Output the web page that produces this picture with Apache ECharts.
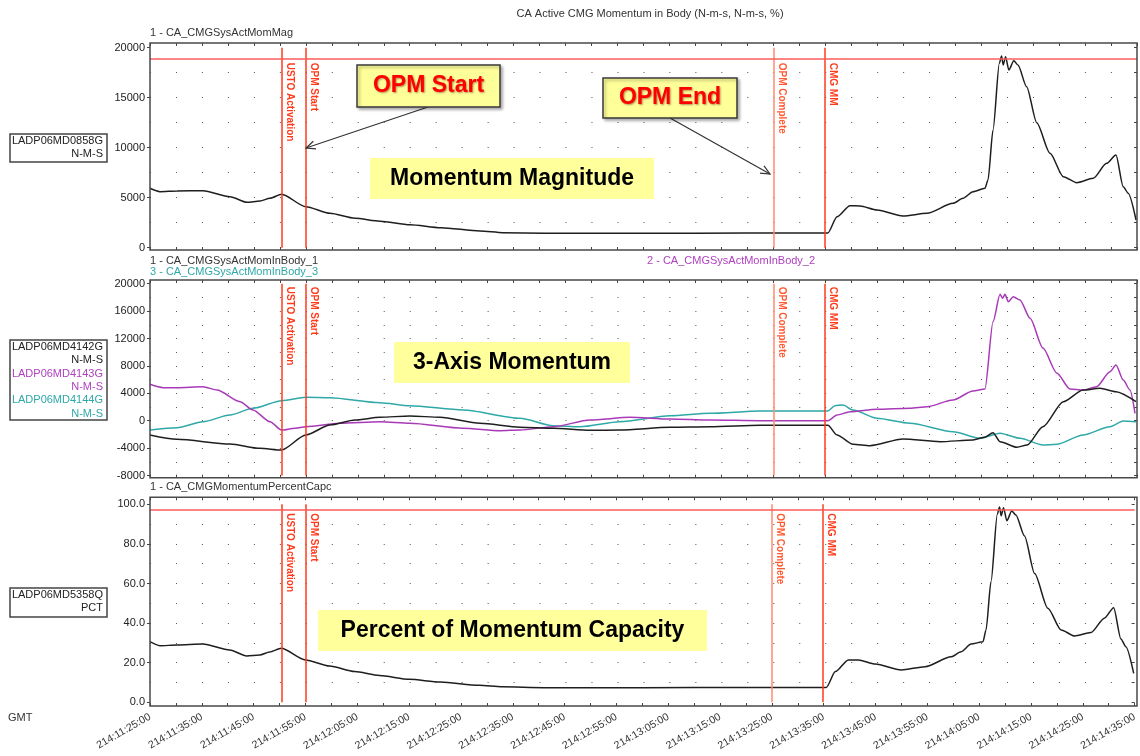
<!DOCTYPE html>
<html>
<head>
<meta charset="utf-8">
<title>CA Active CMG Momentum in Body</title>
<script src="https://cdn.jsdelivr.net/npm/echarts@6/dist/echarts.min.js"></script>
<style>
  html, body { margin: 0; padding: 0; background: #ffffff; }
  #chart { width: 1140px; height: 756px; }
</style>
</head>
<body>
<div id="chart"></div>
<script>
// ---- Time axis tick labels (DOY:HH:MM:SS) ----
const xTickLabels = [
  '214:11:25:00', '214:11:35:00', '214:11:45:00', '214:11:55:00', '214:12:05:00',
  '214:12:15:00', '214:12:25:00', '214:12:35:00', '214:12:45:00', '214:12:55:00',
  '214:13:05:00', '214:13:15:00', '214:13:25:00', '214:13:35:00', '214:13:45:00',
  '214:13:55:00', '214:14:05:00', '214:14:15:00', '214:14:25:00', '214:14:35:00'
];

// ---- Y tick labels per strip ----
const magTickLabels = ['0', '5000', '10000', '15000', '20000'];
const bodyTickLabels = ['-8000', '-4000', '0', '4000', '8000', '12000', '16000', '20000'];
const pctTickLabels = ['0.0', '20.0', '40.0', '60.0', '80.0', '100.0'];

// ---- Event markers ----
const eventNames = ['USTO Activation', 'OPM Start', 'OPM Complete', 'CMG MM'];
const eventTimes = ['11:50:20', '11:55:00', '13:25:00', '13:34:50'];

// ---- Limits ----
const magLimit = 18900;   // N-m-s
const pctLimit = 97.5;    // %

// ---- Momentum magnitude (N-m-s) and percent of capacity (%) ----
const magTimes = [
  '11:25:00', '11:26:55', '11:30:12', '11:35:12', '11:40:24', '11:43:40', '11:46:10', '11:48:06',
  '11:50:20', '11:55:00', '11:59:39', '12:04:28', '12:09:16', '12:15:03', '12:21:00', '12:28:31',
  '12:32:57', '12:41:02', '13:00:00', '13:20:00', '13:35:30', '13:37:15', '13:39:45', '13:41:41',
  '13:44:57', '13:49:57', '13:54:34', '13:59:35', '14:01:30', '14:03:26', '14:05:44', '14:06:19',
  '14:07:17', '14:08:30', '14:08:56', '14:09:14', '14:09:42', '14:10:20', '14:11:17', '14:12:05',
  '14:13:45', '14:15:42', '14:18:15', '14:20:49', '14:23:24', '14:26:34', '14:29:09', '14:30:57',
  '14:32:21', '14:33:19', '14:34:49'
];
const magValues = [
  5940, 5600, 5670, 5700, 5100, 4540, 4670, 4940,
  5340, 4100, 3440, 2940, 2650, 2300, 2000, 1670,
  1500, 1450, 1450, 1460, 1480, 3100, 4200, 4170,
  3770, 3170, 3440, 4440, 4940, 5600, 5940, 6770,
  11770, 18440, 19170, 18270, 19100, 17770, 18700, 18270,
  16100, 12500, 9440, 7100, 6500, 6940, 8440, 9270,
  6100, 5440, 2770
];
const pctValues = [
  30.6, 28.6, 28.9, 29.4, 26.4, 23.4, 23.9, 25.4,
  27.3, 21.4, 18.3, 15.5, 13.5, 11.6, 10.2, 8.6,
  7.8, 7.4, 7.4, 7.5, 7.5, 15.5, 21.4, 21.4,
  19.3, 16.3, 18.0, 23.0, 25.5, 29.4, 30.6, 36.5,
  61.0, 95.0, 98.6, 94.2, 98.3, 91.7, 96.6, 94.6,
  84.0, 65.0, 47.5, 36.5, 33.5, 35.2, 42.5, 47.8,
  32.0, 28.1, 14.6
];

// ---- 3-axis momentum in body (N-m-s) ----
const body1Times = [
  '11:25:00', '11:30:12', '11:40:24', '11:46:10', '11:50:20', '11:55:00', '11:59:39', '12:04:28',
  '12:09:16', '12:15:03', '12:20:49', '12:28:31', '12:36:14', '12:42:35', '12:49:42', '12:55:28',
  '13:05:06', '13:12:48', '13:22:26', '13:35:30', '13:37:15', '13:40:20', '13:43:36', '13:49:57',
  '13:57:05', '14:03:26', '14:05:44', '14:07:17', '14:08:38', '14:11:54', '14:13:51', '14:16:54',
  '14:20:49', '14:24:36', '14:27:52', '14:30:57', '14:34:49'
];
const body1Values = [
  -2090, -2720, -3400, -4030, -4280, -2090, -630, 100,
  500, 690, 500, -380, -960, -1110, -1400, -1360,
  -960, -880, -670, -670, -2090, -3450, -3650, -2670,
  -3070, -2820, -2400, -1750, -3070, -3880, -3550, -880,
  2770, 4480, 4730, 4230, 2770
];

const body2Times = [
  '11:25:00', '11:27:30', '11:30:12', '11:35:12', '11:37:54', '11:42:20', '11:44:50', '11:48:06',
  '11:50:20', '11:52:55', '11:55:00', '12:01:35', '12:09:16', '12:15:03', '12:25:15', '12:32:23',
  '12:36:14', '12:42:35', '12:49:42', '12:57:24', '13:05:06', '13:12:48', '13:22:26', '13:35:30',
  '13:37:15', '13:39:45', '13:44:57', '13:51:18', '13:54:34', '13:59:35', '14:03:26', '14:05:44',
  '14:07:17', '14:08:38', '14:09:09', '14:09:35', '14:10:13', '14:11:11', '14:12:28', '14:14:25',
  '14:16:54', '14:19:33', '14:22:06', '14:24:36', '14:27:13', '14:29:48', '14:30:57', '14:32:21',
  '14:33:39', '14:34:37'
];
const body2Values = [
  5310, 4820, 4820, 4960, 4480, 2770, 1560, -150,
  -1360, -1110, -880, -380, -150, -380, -1110, -1460,
  -1360, -880, 100, 500, 250, 100, 0, 0,
  830, 1310, 1660, 1810, 2040, 3020, 4340, 4630,
  14450, 18450, 17870, 18450, 17370, 18100, 17620, 14950,
  10610, 6960, 4630, 4480, 4960, 7150, 8130, 5940,
  4480, 1080
];

const body3Times = [
  '11:25:00', '11:30:12', '11:35:12', '11:40:24', '11:44:50', '11:50:20', '11:55:00', '11:59:39',
  '12:09:16', '12:15:03', '12:25:15', '12:36:14', '12:42:35', '12:47:47', '12:55:28', '13:05:06',
  '13:12:48', '13:22:26', '13:35:30', '13:36:52', '13:38:24', '13:40:20', '13:44:57', '13:51:18',
  '13:59:35', '14:04:47', '14:08:38', '14:12:28', '14:16:54', '14:19:33', '14:24:36', '14:29:48',
  '14:32:21', '14:34:49'
];
const body3Values = [
  -1360, -1020, -150, 830, 1810, 2920, 3420, 3360,
  2630, 2190, 1560, 350, -730, -880, -150, 730,
  1080, 1420, 1420, 2190, 2290, 1560, 350, -380,
  -1610, -2570, -1840, -2570, -3550, -3450, -2090, -880,
  -40, -150
];

// ---- Helpers ----
const FONT = '"Liberation Sans", Arial, sans-serif';
const toMin = s => { const p = s.split(':').map(Number); return p[0] * 60 + p[1] + (p[2] || 0) / 60; };
const tickMin = s => toMin(s.split(':').slice(1).join(':'));
const pairs = (times, vals) => times.map((t, i) => [toMin(t), vals[i]]);

const X_MIN = tickMin(xTickLabels[0]);
const X_MAX = tickMin(xTickLabels[xTickLabels.length - 1]);
const xTickValues = xTickLabels.map(tickMin);
const xLabelMap = {};
xTickLabels.forEach((l, i) => { xLabelMap[Math.round(xTickValues[i])] = l; });

const COLOR_BLACK = '#1e1e1e';
const COLOR_MAG = '#a83ab8';
const COLOR_TEAL = '#2fa8a8';
const COLOR_EVENT = ['#ff3a1a', '#ff3a1a', '#ff8a6e', '#ff3a1a'];
const COLOR_EVENT_TEXT = ['#ff3a1a', '#ff3a1a', '#ff5a30', '#ff3a1a'];
const COLOR_LIMIT = '#ff5c5c';

// strip layout: plot rectangle = value range, border box slightly larger
const panels = [
  { top: 47.7, height: 200, bTop: 43, bBottom: 250, ticks: magTickLabels, labelShift: 15 },
  { top: 283.7, height: 191.8, bTop: 280, bBottom: 477.7, ticks: bodyTickLabels, labelShift: 3 },
  { top: 504.3, height: 198, bTop: 497.3, bBottom: 706, ticks: pctTickLabels, labelShift: 9 }
];
const GRID_LEFT = 150, GRID_RIGHT = 1137;

const grids = [], xAxes = [], yAxes = [];
panels.forEach((p, i) => {
  const majors = p.ticks.map(Number);
  p.yMin = majors[0];
  p.yMax = majors[majors.length - 1];
  const step = (majors[1] - majors[0]) / 2;
  grids.push({ left: GRID_LEFT, width: GRID_RIGHT - GRID_LEFT, top: p.top, height: p.height });
  const bottomOffset = p.bBottom - (p.top + p.height);
  const topOffset = p.top - p.bTop;
  xAxes.push({
    type: 'value', gridIndex: i, min: X_MIN, max: X_MAX, interval: 5,
    position: 'bottom', offset: bottomOffset,
    axisLine: { show: false, onZero: false },
    axisTick: { show: true, inside: true, length: 3, lineStyle: { color: '#444', width: 1 } },
    splitLine: { show: false },
    axisLabel: i === 2 ? {
      show: true, customValues: xTickValues, rotate: 30, margin: 10,
      fontFamily: FONT, fontSize: 10.5, color: '#333',
      formatter: v => xLabelMap[Math.round(v)] || ''
    } : { show: false }
  });
  xAxes.push({
    type: 'value', gridIndex: i, min: X_MIN, max: X_MAX, interval: 5,
    position: 'top', offset: topOffset,
    axisLine: { show: false, onZero: false },
    axisTick: { show: true, inside: true, length: 3, lineStyle: { color: '#444', width: 1 } },
    splitLine: { show: false },
    axisLabel: { show: false }
  });
  const labelMap = {};
  p.ticks.forEach(t => { labelMap[Number(t)] = t; });
  // value axis with labels and outer ticks at the labelled values
  yAxes.push({
    type: 'value', gridIndex: i, min: p.yMin, max: p.yMax, interval: step * 2,
    position: 'left',
    axisLine: { show: false, onZero: false },
    axisTick: { show: true, inside: false, length: 3, lineStyle: { color: '#444' } },
    axisLabel: {
      show: true, margin: 5,
      fontFamily: FONT, fontSize: 11, color: '#222',
      formatter: v => labelMap[v] !== undefined ? labelMap[v] : ''
    },
    splitLine: { show: false }
  });
  // inner ticks along the right frame
  yAxes.push({
    type: 'value', gridIndex: i, min: p.yMin, max: p.yMax, interval: step,
    position: 'right',
    axisLine: { show: false, onZero: false },
    axisTick: { show: true, inside: true, length: 3, lineStyle: { color: '#444' } },
    axisLabel: { show: false },
    splitLine: { show: false }
  });
  // dotted background grid at every half division
  yAxes.push({
    type: 'value', gridIndex: i, min: p.yMin, max: p.yMax, interval: step,
    position: 'left',
    axisLine: { show: false, onZero: false },
    axisTick: { show: false },
    axisLabel: { show: false },
    splitLine: {
      show: true, showMinLine: false, showMaxLine: false,
      lineStyle: { color: '#555', width: 1, type: [1, 24.97] }
    }
  });
});

// vertical event lines, drawn top-down so the labels read downward
function eventMarks(p, limit) {
  const data = eventTimes.map((t, k) => [
    {
      coord: [toMin(t), p.yMax],
      lineStyle: { color: COLOR_EVENT[k], width: 1.5, type: 'solid' },
      label: {
        show: true, formatter: eventNames[k], position: 'insideStartTop',
        distance: [p.labelShift, 3],
        color: COLOR_EVENT_TEXT[k], fontFamily: FONT, fontWeight: 'bold', fontSize: 10
      }
    },
    { coord: [toMin(t), p.yMin] }
  ]);
  if (limit !== undefined) {
    data.push({ yAxis: limit, lineStyle: { color: COLOR_LIMIT, width: 1.5, type: 'solid' }, label: { show: false } });
  }
  return { silent: true, symbol: ['none', 'none'], animation: false, data };
}

const lineBase = { type: 'line', showSymbol: false, smooth: 0.25, smoothMonotone: 'x', animation: false };

const series = [
  Object.assign({}, lineBase, {
    name: 'CA_CMGSysActMomMag', xAxisIndex: 0, yAxisIndex: 0,
    data: pairs(magTimes, magValues), lineStyle: { color: COLOR_BLACK, width: 1.5 },
    markLine: eventMarks(panels[0], magLimit)
  }),
  Object.assign({}, lineBase, {
    name: 'CA_CMGSysActMomInBody_3', xAxisIndex: 2, yAxisIndex: 3,
    data: pairs(body3Times, body3Values), lineStyle: { color: COLOR_TEAL, width: 1.5 }
  }),
  Object.assign({}, lineBase, {
    name: 'CA_CMGSysActMomInBody_2', xAxisIndex: 2, yAxisIndex: 3,
    data: pairs(body2Times, body2Values), lineStyle: { color: COLOR_MAG, width: 1.5 }
  }),
  Object.assign({}, lineBase, {
    name: 'CA_CMGSysActMomInBody_1', xAxisIndex: 2, yAxisIndex: 3,
    data: pairs(body1Times, body1Values), lineStyle: { color: COLOR_BLACK, width: 1.5 },
    markLine: eventMarks(panels[1])
  }),
  Object.assign({}, lineBase, {
    name: 'CA_CMGMomentumPercentCapc', xAxisIndex: 4, yAxisIndex: 6,
    data: pairs(magTimes, pctValues), lineStyle: { color: COLOR_BLACK, width: 1.5 },
    markLine: eventMarks(panels[2], pctLimit)
  })
];

// ---- Decorations: strip frames, titles, parameter boxes, callouts ----
const graphics = [];
const txt = (x, y, text, opts) => graphics.push({
  type: 'text', x, y, silent: true,
  style: Object.assign({ text, font: '11px ' + FONT, fill: '#222', align: 'left', verticalAlign: 'middle' }, opts || {})
});

panels.forEach(p => {
  graphics.push({
    type: 'rect', silent: true, z: 10,
    shape: { x: GRID_LEFT, y: p.bTop, width: GRID_RIGHT - GRID_LEFT, height: p.bBottom - p.bTop },
    style: { fill: null, stroke: '#4a4a4a', lineWidth: 1.5 }
  });
});

txt(650, 14, 'CA Active CMG Momentum in Body (N-m-s, N-m-s, %)', { align: 'center', fill: '#333' });
txt(150, 33, '1 - CA_CMGSysActMomMag', { fill: '#333' });
txt(150, 261, '1 - CA_CMGSysActMomInBody_1', { fill: '#333' });
txt(150, 272, '3 - CA_CMGSysActMomInBody_3', { fill: COLOR_TEAL });
txt(647, 261, '2 - CA_CMGSysActMomInBody_2', { fill: '#b040c0' });
txt(150, 487, '1 - CA_CMGMomentumPercentCapc', { fill: '#333' });
txt(8, 718, 'GMT', { fill: '#333' });

function paramBox(y, h, lines) {
  graphics.push({
    type: 'rect', silent: true,
    shape: { x: 10, y, width: 97, height: h },
    style: { fill: '#fff', stroke: '#444', lineWidth: 1.5 }
  });
  lines.forEach((l, k) => txt(103, y + 7 + k * 13.3, l[0], { align: 'right', fill: l[1] }));
}
paramBox(134, 28, [['LADP06MD0858G', '#222'], ['N-M-S', '#222']]);
paramBox(340, 80, [
  ['LADP06MD4142G', '#222'], ['N-M-S', '#222'],
  ['LADP06MD4143G', '#b040c0'], ['N-M-S', '#b040c0'],
  ['LADP06MD4144G', COLOR_TEAL], ['N-M-S', COLOR_TEAL]
]);
paramBox(588, 29, [['LADP06MD5358Q', '#222'], ['PCT', '#222']]);

function note(x, y, w, h, text, framed) {
  graphics.push({
    type: 'rect', silent: true, z: 20,
    shape: { x, y, width: w, height: h },
    style: framed
      ? { fill: '#ffff99', stroke: '#3a3a3a', lineWidth: 1.5, shadowBlur: 3, shadowOffsetX: 2, shadowOffsetY: 2, shadowColor: 'rgba(0,0,0,0.3)' }
      : { fill: '#ffff9c' }
  });
  graphics.push({
    type: 'text', silent: true, z: 21, x: x + w / 2, y: y + h / 2,
    style: framed
      ? { text, font: 'bold 23px ' + FONT, fill: '#ff0000', align: 'center', verticalAlign: 'middle',
          textShadowColor: 'rgba(90,0,0,0.45)', textShadowBlur: 2, textShadowOffsetX: 1, textShadowOffsetY: 1 }
      : { text, font: 'bold 23px ' + FONT, fill: '#000', align: 'center', verticalAlign: 'middle' }
  });
}
function arrow(x1, y1, x2, y2) {
  const a = Math.atan2(y2 - y1, x2 - x1), L = 10, s = 0.42;
  graphics.push({
    type: 'polyline', silent: true, z: 20,
    shape: { points: [[x1, y1], [x2, y2]] }, style: { stroke: '#333', lineWidth: 1.2, fill: null }
  });
  graphics.push({
    type: 'polyline', silent: true, z: 20,
    shape: { points: [
      [x2 - L * Math.cos(a - s), y2 - L * Math.sin(a - s)], [x2, y2],
      [x2 - L * Math.cos(a + s), y2 - L * Math.sin(a + s)]
    ] },
    style: { stroke: '#333', lineWidth: 1.2, fill: null }
  });
}
arrow(428, 107, 306, 148);
arrow(670, 118, 770, 174);
note(357, 65, 143, 42, 'OPM Start', true);
note(603, 78, 134, 40, 'OPM End', true);
note(370, 158, 284, 41, 'Momentum Magnitude', false);
note(394, 342, 236, 41, '3-Axis Momentum', false);
note(318, 610, 389, 41, 'Percent of Momentum Capacity', false);

const chart = echarts.init(document.getElementById('chart'), null, { renderer: 'canvas' });
chart.setOption({
  animation: false,
  backgroundColor: '#ffffff',
  grid: grids,
  xAxis: xAxes,
  yAxis: yAxes,
  series,
  graphic: { elements: graphics }
});
</script>
</body>
</html>
